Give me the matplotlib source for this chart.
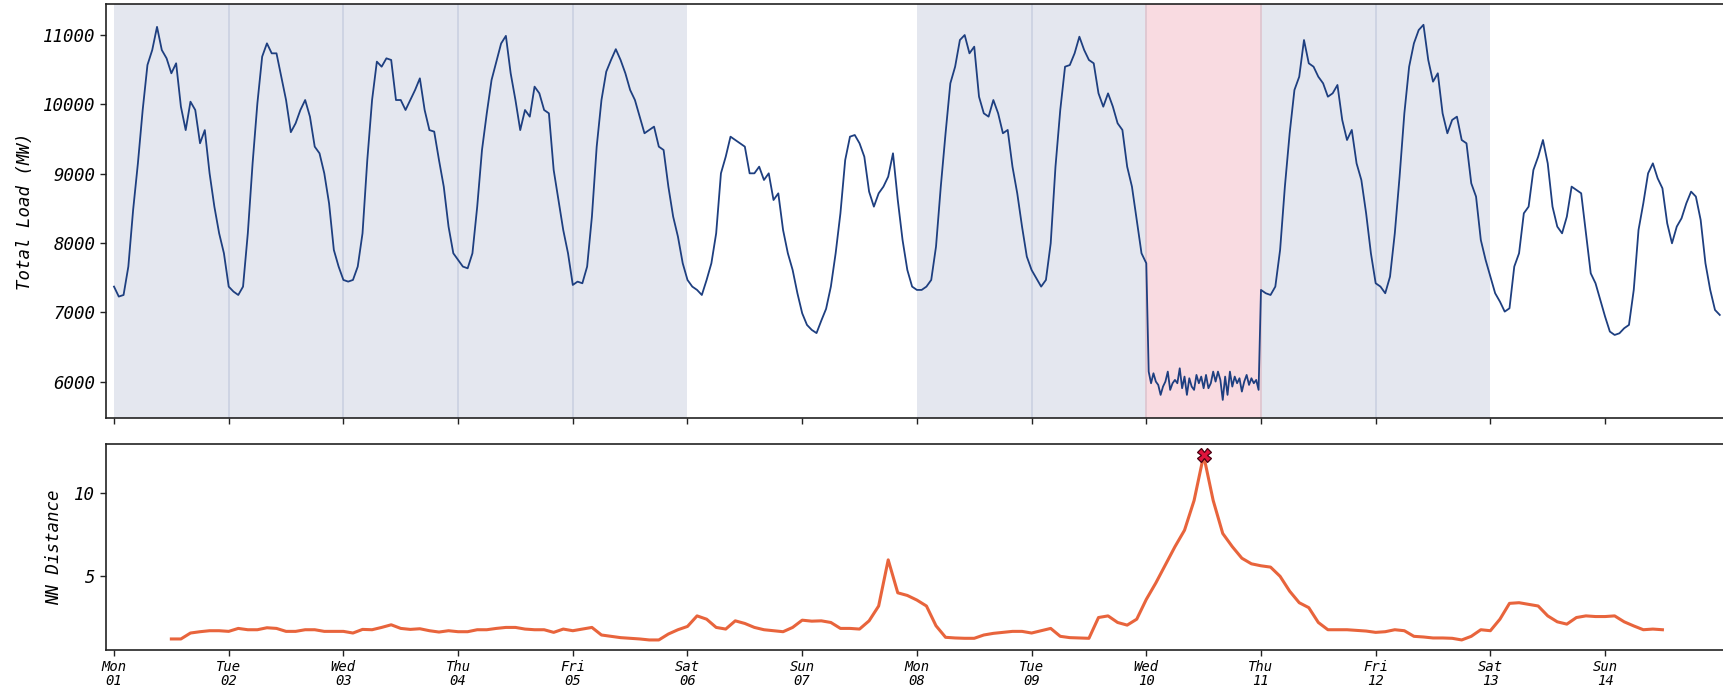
import numpy as np
import pandas as pd
import matplotlib
matplotlib.use('Agg')
import matplotlib.pyplot as plt
import matplotlib.dates as mdates

# total load (MW), hourly values, one list per day
load_mon01 = [7371, 7227, 7250, 7660, 8477, 9150, 9920, 10570, 10786, 11120, 10786, 10666,
              10450, 10594, 9968, 9630, 10040, 9920, 9440, 9630, 9006, 8525, 8140, 7852]
load_tue02 = [7371, 7299, 7250, 7371, 8140, 9150, 10016, 10690, 10882, 10738, 10738, 10400,
              10064, 9600, 9728, 9920, 10064, 9824, 9391, 9295, 9006, 8573, 7900, 7660]
load_wed03 = [7467, 7443, 7467, 7660, 8140, 9198, 10064, 10618, 10545, 10666, 10642, 10064,
              10064, 9920, 10064, 10209, 10377, 9920, 9630, 9608, 9198, 8814, 8237, 7852]
load_thu04 = [7756, 7660, 7635, 7852, 8525, 9343, 9872, 10353, 10618, 10880, 10990, 10450,
              10064, 9630, 9920, 9824, 10257, 10161, 9920, 9872, 9054, 8621, 8188, 7852]
load_fri05 = [7395, 7443, 7419, 7660, 8381, 9391, 10064, 10473, 10642, 10798, 10642, 10450,
              10209, 10064, 9824, 9584, 9632, 9680, 9391, 9343, 8814, 8381, 8092, 7708]
load_sat06 = [7467, 7371, 7323, 7250, 7467, 7708, 8140, 9006, 9246, 9535, 9487, 9439,
              9391, 9006, 9006, 9102, 8910, 9006, 8621, 8717, 8188, 7852, 7611, 7275]
load_sun07 = [6986, 6818, 6746, 6700, 6880, 7050, 7371, 7852, 8429, 9198, 9535, 9559,
              9439, 9246, 8742, 8525, 8717, 8814, 8958, 9295, 8621, 8044, 7611, 7371]
load_mon08 = [7323, 7323, 7371, 7467, 7948, 8814, 9584, 10305, 10545, 10930, 11002, 10738,
              10834, 10112, 9872, 9824, 10064, 9872, 9584, 9632, 9102, 8717, 8237, 7804]
load_tue09 = [7611, 7491, 7371, 7467, 7996, 9102, 9920, 10545, 10569, 10738, 10978, 10786,
              10642, 10594, 10161, 9968, 10160, 9970, 9728, 9632, 9102, 8814, 8333, 7852]
# anomalous day, half-hourly values
load_wed10 = [7708, 6144, 5976, 6120, 6000, 5952, 5808, 5928, 6000, 6144, 5880, 5976,
              6024, 5976, 6192, 5904, 6072, 5808, 6048, 5928, 5880, 6096, 5976, 6072,
              5904, 6096, 5904, 5976, 6144, 6000, 6144, 6024, 5735, 6072, 5808, 6144,
              5928, 6072, 5976, 6048, 5856, 6000, 6096, 5952, 6048, 5976, 6024, 5880]
load_thu11 = [7323, 7275, 7250, 7371, 7900, 8814, 9584, 10209, 10400, 10930, 10594, 10545,
              10400, 10305, 10112, 10161, 10281, 9776, 9487, 9632, 9150, 8910, 8429, 7852]
load_fri12 = [7419, 7371, 7275, 7515, 8140, 8958, 9872, 10545, 10882, 11074, 11150, 10642,
              10329, 10450, 9872, 9584, 9776, 9824, 9487, 9439, 8862, 8670, 8044, 7756]
load_sat13 = [7515, 7275, 7154, 7010, 7058, 7660, 7852, 8429, 8525, 9054, 9246, 9487,
              9150, 8525, 8237, 8140, 8381, 8814, 8766, 8718, 8140, 7563, 7419, 7178]
load_sun14 = [6938, 6722, 6673, 6697, 6770, 6818, 7323, 8189, 8573, 9006, 9150, 8934,
              8790, 8285, 7996, 8237, 8357, 8573, 8742, 8670, 8333, 7708, 7323, 7034, 6962]

# nearest-neighbour distance, every 2 hours from Mon 01 12:00
nn_distance = [
    1.16, 1.16, 1.52, 1.60, 1.66, 1.66, 1.62, 1.80, 1.72, 1.72, 1.84, 1.80,
    1.62, 1.62, 1.72, 1.72, 1.62, 1.62, 1.62, 1.52, 1.74, 1.72, 1.86, 2.02,
    1.80, 1.74, 1.78, 1.66, 1.58, 1.66, 1.60, 1.60, 1.72, 1.72, 1.80, 1.86,
    1.86, 1.76, 1.72, 1.72, 1.56, 1.76, 1.66, 1.76, 1.86, 1.40, 1.32, 1.24,
    1.20, 1.16, 1.10, 1.10, 1.46, 1.72, 1.92, 2.56, 2.36, 1.86, 1.76, 2.26,
    2.10, 1.86, 1.72, 1.66, 1.60, 1.86, 2.30, 2.24, 2.26, 2.16, 1.80, 1.80,
    1.76, 2.26, 3.16, 5.96, 3.96, 3.80, 3.52, 3.16, 1.96, 1.26, 1.22, 1.20,
    1.20, 1.40, 1.50, 1.56, 1.62, 1.62, 1.52, 1.66, 1.80, 1.32, 1.24, 1.22,
    1.20, 2.46, 2.56, 2.16, 2.00, 2.36, 3.56, 4.56, 5.66, 6.76, 7.76, 9.56,
    12.30, 9.56, 7.56, 6.76, 6.06, 5.72, 5.60, 5.52, 4.96, 4.06, 3.36, 3.06,
    2.16, 1.72, 1.72, 1.72, 1.68, 1.64, 1.56, 1.60, 1.72, 1.66, 1.32, 1.28,
    1.22, 1.22, 1.20, 1.10, 1.32, 1.72, 1.66, 2.36, 3.32, 3.36, 3.26, 3.16,
    2.56, 2.20, 2.06, 2.46, 2.56, 2.52, 2.52, 2.56, 2.20, 1.95, 1.72, 1.76,
    1.72,
]

weekday_dates = ['2018-01-01', '2018-01-02', '2018-01-03', '2018-01-04', '2018-01-05',
                 '2018-01-08', '2018-01-09', '2018-01-11', '2018-01-12']
anomaly_date = '2018-01-10'
tick_dates = pd.date_range('2018-01-01', '2018-01-14', freq='D')


def main():
    plt.rcParams['font.family'] = 'DejaVu Sans Mono'
    plt.rcParams['font.style'] = 'oblique'

    start = pd.Timestamp('2018-01-01')
    before = (load_mon01 + load_tue02 + load_wed03 + load_thu04 + load_fri05 + load_sat06
              + load_sun07 + load_mon08 + load_tue09)
    after = load_thu11 + load_fri12 + load_sat13 + load_sun14
    t = (pd.date_range(start, periods=len(before), freq='h')
         .append(pd.date_range(start + pd.Timedelta(days=9), periods=len(load_wed10), freq='30min'))
         .append(pd.date_range(start + pd.Timedelta(days=10), periods=len(after), freq='h')))
    load = np.array(before + load_wed10 + after)

    mp_t = pd.date_range(start + pd.Timedelta(hours=12), periods=len(nn_distance), freq='2h')
    mp = np.array(nn_distance)

    W, H = 1723, 696
    fig = plt.figure(figsize=(W / 100, H / 100), dpi=100)
    ax1 = fig.add_axes([105.7 / W, 1 - 418.3 / H, (1727 - 105.7) / W, (418.3 - 4) / H])
    ax2 = fig.add_axes([105.7 / W, 1 - 650 / H, (1727 - 105.7) / W, (650 - 444) / H])

    # shaded weekdays and the anomalous day
    one_day = pd.Timedelta(days=1)
    for d in weekday_dates:
        d = pd.Timestamp(d)
        ax1.axvspan(d, d + one_day, color='#e4e7ef', lw=0, zorder=0)
    a = pd.Timestamp(anomaly_date)
    ax1.axvspan(a, a + one_day, color='#f9dbe1', lw=0, zorder=0)
    shaded = [pd.Timestamp(d) for d in weekday_dates] + [a]
    for d in shaded:
        if d + one_day in shaded:
            edge = d + one_day
            c = '#dfc6d0' if a in (d, edge) else '#ccd3e2'
            ax1.axvline(edge, color=c, lw=1.3, zorder=0.5)

    ax1.plot(t, load, color='#1e3f80', lw=1.3)
    ax2.plot(mp_t, mp, color='#e8643c', lw=2.2)
    i = np.argmax(mp)
    ax2.plot(mp_t[i], mp[i], marker='X', ms=10, mfc='#e0143c', mec='#4a0010', mew=0.9,
             ls='none', zorder=5)

    x0 = start - pd.Timedelta(days=0.0724)
    x1 = start + pd.Timedelta(days=14.063)
    for ax in (ax1, ax2):
        ax.set_xlim(x0, x1)
        ax.set_xticks(tick_dates)
        ax.tick_params(length=4, width=1, color='#222222')
        for s in ax.spines.values():
            s.set_linewidth(1.2)
            s.set_color('#222222')
    ax1.tick_params(axis='x', labelbottom=False)
    ax2.xaxis.set_major_formatter(mdates.DateFormatter('%a\n%d'))
    ax2.tick_params(axis='x', labelsize=10, pad=3)
    for lab in ax2.get_xticklabels():
        lab.set_linespacing(1.0)

    ax1.set_ylim(5470, 11450)
    ax1.set_yticks([6000, 7000, 8000, 9000, 10000, 11000])
    ax1.tick_params(axis='y', labelsize=12.5)
    ax1.set_ylabel('Total Load (MW)', fontsize=12.5, labelpad=6)

    ax2.set_ylim(0.49, 12.99)
    ax2.set_yticks([5, 10])
    ax2.tick_params(axis='y', labelsize=12.5)
    ax2.set_ylabel('NN Distance', fontsize=12.5, labelpad=8)

    fig.savefig('out.png', dpi=100)


if __name__ == '__main__':
    main()
